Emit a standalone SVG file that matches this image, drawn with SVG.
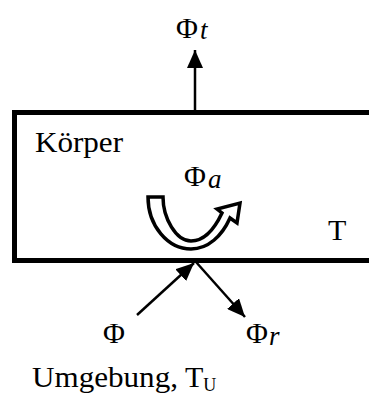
<svg xmlns="http://www.w3.org/2000/svg" width="369" height="402" viewBox="0 0 369 402">
<style>
.t{font-family:"Liberation Serif","Times New Roman",serif;fill:#000}
.i{font-style:italic}
</style>
<defs>
<marker id="ah2" viewBox="0 0 10 10" refX="10" refY="5" markerWidth="18" markerHeight="16" markerUnits="userSpaceOnUse" orient="auto" preserveAspectRatio="none">
<path d="M0,0 L10,5 L0,10 Z" fill="#000"/>
</marker>
</defs>
<g id="koerper">
<path d="M372,112.5 L14.5,112.5 L14.5,260.5 L372,260.5" fill="none" stroke="#000" stroke-width="5"/>
<text class="t" x="35" y="152" font-size="30" textLength="88" lengthAdjust="spacingAndGlyphs">Körper</text>
<text class="t" x="328" y="240" font-size="30">T</text>
</g>
<g id="phi_a">
<path d="M148,197 L163,197 C163,218 176,241 191,241 C204,241 214,230 222,213 L217,209 L240,203 L237,223 L230,218 C222,236 208,249 191,249 C168,249 148,226 148,197 Z" fill="#fff" stroke="#000" stroke-width="3.5" stroke-linejoin="miter"/>
<text class="t" x="184" y="186" font-size="30">Φ<tspan class="i" font-size="27" dx="2" dy="2">a</tspan></text>
</g>
<g id="connectors">
<line x1="195" y1="110" x2="195" y2="50" stroke="#000" stroke-width="2.5" marker-end="url(#ah2)"/>
<line x1="137" y1="315" x2="194" y2="263" stroke="#000" stroke-width="2.5" marker-end="url(#ah2)"/>
<line x1="196" y1="262" x2="245" y2="317" stroke="#000" stroke-width="2.5" marker-end="url(#ah2)"/>
</g>
<g id="phi_t">
<text class="t" x="176" y="38" font-size="30">Φ<tspan class="i" font-size="27" dx="2" dy="1">t</tspan></text>
</g>
<g id="phi_in">
<text class="t" x="103" y="343" font-size="30">Φ</text>
</g>
<g id="phi_r">
<text class="t" x="246" y="343" font-size="30">Φ<tspan class="i" font-size="27" dx="1" dy="2">r</tspan></text>
</g>
<g id="umgebung">
<text class="t" x="32" y="387" font-size="30"><tspan textLength="146" lengthAdjust="spacingAndGlyphs">Umgebung,</tspan><tspan x="185">T</tspan><tspan font-size="18" dy="4">U</tspan></text>
</g>
</svg>
